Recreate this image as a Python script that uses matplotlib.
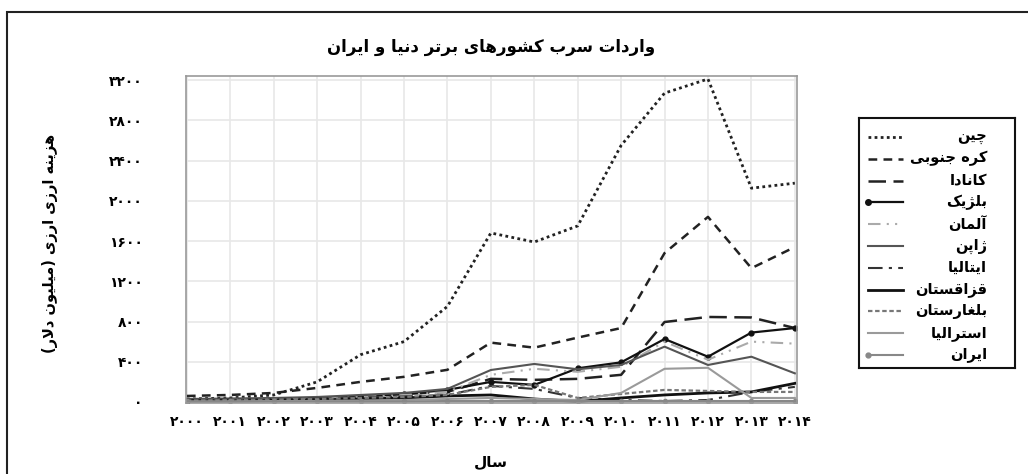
import numpy as np
import matplotlib
matplotlib.use("Agg")
import matplotlib.pyplot as plt
from matplotlib.patches import Rectangle

# ---- data (million USD) ----
years = list(range(2000, 2015))

china = [30, 40, 70, 200, 470, 600, 950, 1680, 1590, 1750, 2550, 3070, 3210, 2125, 2175]
korea = [60, 70, 90, 140, 200, 250, 320, 590, 540, 640, 735, 1480, 1840, 1330, 1540]
canada = [20, 25, 30, 40, 60, 80, 100, 230, 220, 230, 270, 795, 845, 840, 735]
belgium = [10, 15, 20, 30, 50, 80, 120, 200, 170, 335, 394, 626, 450, 690, 735]
germany = [15, 20, 25, 35, 50, 70, 100, 270, 330, 300, 350, 600, 420, 600, 580]
japan = [30, 35, 40, 50, 70, 90, 130, 318, 378, 325, 368, 550, 368, 450, 285]
italy = [20, 25, 30, 35, 45, 55, 70, 160, 130, 40, 20, 10, 20, 100, 150]
kazakhstan = [10, 10, 15, 20, 30, 40, 60, 70, 30, 5, 40, 70, 90, 100, 185]
bulgaria = [15, 20, 25, 30, 40, 50, 70, 150, 170, 40, 80, 120, 110, 100, 100]
australia = [5, 5, 10, 10, 15, 20, 30, 40, 30, 20, 90, 330, 340, 40, 40]
iran = [5, 5, 5, 5, 5, 5, 10, 10, 10, 10, 10, 10, 10, 10, 10]

names = ["چین", "کره جنوبی", "کانادا", "بلژیک", "آلمان", "ژاپن",
         "ایتالیا", "قزاقستان", "بلغارستان", "استرالیا", "ایران"]
title = "واردات سرب کشورهای برتر دنیا و ایران"
ylabel = "هزینه ارزی ارزی (میلیون دلار)"
xlabel = "سال"
yticks = [0, 400, 800, 1200, 1600, 2000, 2400, 2800, 3200]

# ---- minimal persian shaping (matplotlib has no bidi / joining) ----
FORMS = {
    '\u0627': ('\uFE8D', '\uFE8E', None, None),
    '\u0622': ('\uFE81', '\uFE82', None, None),
    '\u0628': ('\uFE8F', '\uFE90', '\uFE91', '\uFE92'),
    '\u067E': ('\uFB56', '\uFB57', '\uFB58', '\uFB59'),
    '\u062A': ('\uFE95', '\uFE96', '\uFE97', '\uFE98'),
    '\u062B': ('\uFE99', '\uFE9A', '\uFE9B', '\uFE9C'),
    '\u062C': ('\uFE9D', '\uFE9E', '\uFE9F', '\uFEA0'),
    '\u0686': ('\uFB7A', '\uFB7B', '\uFB7C', '\uFB7D'),
    '\u062D': ('\uFEA1', '\uFEA2', '\uFEA3', '\uFEA4'),
    '\u062E': ('\uFEA5', '\uFEA6', '\uFEA7', '\uFEA8'),
    '\u062F': ('\uFEA9', '\uFEAA', None, None),
    '\u0630': ('\uFEAB', '\uFEAC', None, None),
    '\u0631': ('\uFEAD', '\uFEAE', None, None),
    '\u0632': ('\uFEAF', '\uFEB0', None, None),
    '\u0698': ('\uFB8A', '\uFB8B', None, None),
    '\u0633': ('\uFEB1', '\uFEB2', '\uFEB3', '\uFEB4'),
    '\u0634': ('\uFEB5', '\uFEB6', '\uFEB7', '\uFEB8'),
    '\u063A': ('\uFECD', '\uFECE', '\uFECF', '\uFED0'),
    '\u0641': ('\uFED1', '\uFED2', '\uFED3', '\uFED4'),
    '\u0642': ('\uFED5', '\uFED6', '\uFED7', '\uFED8'),
    '\u06A9': ('\uFB8E', '\uFB8F', '\uFB90', '\uFB91'),
    '\u06AF': ('\uFB92', '\uFB93', '\uFB94', '\uFB95'),
    '\u0644': ('\uFEDD', '\uFEDE', '\uFEDF', '\uFEE0'),
    '\u0645': ('\uFEE1', '\uFEE2', '\uFEE3', '\uFEE4'),
    '\u0646': ('\uFEE5', '\uFEE6', '\uFEE7', '\uFEE8'),
    '\u0647': ('\uFEE9', '\uFEEA', '\uFEEB', '\uFEEC'),
    '\u0648': ('\uFEED', '\uFEEE', None, None),
    '\u06CC': ('\uFBFC', '\uFBFD', '\uFBFE', '\uFBFF'),
}
LAM_ALEF = {'\u0627': ('\uFEFB', '\uFEFC'), '\u0622': ('\uFEF5', '\uFEF6')}


def dual(c):
    return c in FORMS and FORMS[c][2] is not None


def fa(text):
    out = []
    i = 0
    n = len(text)
    while i < n:
        c = text[i]
        prev = text[i - 1] if i > 0 else ''
        nxt = text[i + 1] if i + 1 < n else ''
        if c not in FORMS:
            out.append(c)
            i += 1
            continue
        jp = dual(prev)
        if c == '\u0644' and nxt in LAM_ALEF:
            out.append(LAM_ALEF[nxt][1 if jp else 0])
            i += 2
            continue
        jn = dual(c) and nxt in FORMS
        iso, fin, ini, med = FORMS[c]
        if jp and jn:
            out.append(med)
        elif jp:
            out.append(fin)
        elif jn:
            out.append(ini)
        else:
            out.append(iso)
        i += 1
    swap = {'(': ')', ')': '('}
    return ''.join(swap.get(ch, ch) for ch in reversed(out))


def fa_num(v):
    return str(v).translate(str.maketrans('0123456789', '۰۱۲۳۴۵۶۷۸۹'))


plt.rcParams['font.family'] = ['DejaVu Sans']

fig = plt.figure(figsize=(10.28, 4.74), dpi=100)
ax = fig.add_axes([186 / 1028, 1 - 403 / 474, (797 - 186) / 1028, (403 - 76) / 474])

series = [china, korea, canada, belgium, germany, japan,
          italy, kazakhstan, bulgaria, australia, iran]
styles = [
    dict(color='#222222', lw=2.0, ls=(0, (1, 1.2))),
    dict(color='#222222', lw=1.8, ls=(0, (3.5, 2.5))),
    dict(color='#222222', lw=1.8, ls=(0, (7, 3))),
    dict(color='#111111', lw=1.6, ls='-', marker='o', ms=3.5),
    dict(color='#aaaaaa', lw=1.5, ls=(0, (6, 3, 1, 3, 1, 3))),
    dict(color='#555555', lw=1.5, ls='-'),
    dict(color='#333333', lw=1.5, ls=(0, (7, 3, 1.5, 3))),
    dict(color='#111111', lw=2.0, ls='-'),
    dict(color='#777777', lw=1.6, ls=(0, (2, 1.2))),
    dict(color='#9a9a9a', lw=1.5, ls='-'),
    dict(color='#888888', lw=1.5, ls='-', marker='o', ms=3),
]

for vals, st in zip(series, styles):
    ax.plot(years, vals, **st)

ax.set_xlim(1999.98, 2014.05)
ax.set_ylim(-10, 3240)
ax.set_xticks(years)
ax.set_xticklabels([fa_num(y) for y in years], fontsize=10, fontweight='bold')
ax.set_yticks(yticks)
ax.set_yticklabels([fa_num(v) for v in yticks], fontsize=10, fontweight='bold')
ax.tick_params(axis='both', length=0)
ax.tick_params(axis='y', pad=31)
ax.tick_params(axis='x', pad=9)
ax.grid(True, color='#e8e8e8', lw=1.2)
ax.set_axisbelow(True)
for sp in ax.spines.values():
    sp.set_color('#999999')
    sp.set_linewidth(1.2)

fig.text(491 / 1028, 1 - 47 / 474, fa(title), ha='center', va='center',
         fontsize=12, fontweight='bold')
fig.text(491 / 1028, 1 - 462 / 474, fa(xlabel), ha='center', va='center',
         fontsize=11, fontweight='bold')
fig.text(50 / 1028, 1 - 243 / 474, fa(ylabel), ha='center', va='center',
         rotation=90, fontsize=10.5, fontweight='bold')

# legend drawn by hand so the labels can be right aligned
lg = fig.add_axes([859 / 1028, 1 - 368 / 474, (1015 - 859) / 1028, (368 - 118) / 474])
lg.set_xlim(859, 1015)
lg.set_ylim(368, 118)
lg.set_xticks([])
lg.set_yticks([])
for sp in lg.spines.values():
    sp.set_color('#111111')
    sp.set_linewidth(1.5)
for k, (name, st) in enumerate(zip(names, styles)):
    yy = 137 + k * 21.8
    st2 = dict(st)
    if 'marker' in st2:
        lg.plot([868], [yy], color=st2['color'], marker='o', ms=st2['ms'] + 0.5, ls='none')
        st2.pop('marker')
        st2.pop('ms')
    lg.plot([868, 903], [yy, yy], **st2)
    lg.text(987, yy, fa(name), ha='right', va='center', fontsize=10.5, fontweight='bold')

# outer frame
fig.add_artist(Rectangle((7 / 1028, -0.05), 1.1, 1 - 12 / 474 + 0.05,
                         transform=fig.transFigure, fill=False,
                         edgecolor='#222222', lw=1.5))

fig.savefig('out.png', dpi=100)
